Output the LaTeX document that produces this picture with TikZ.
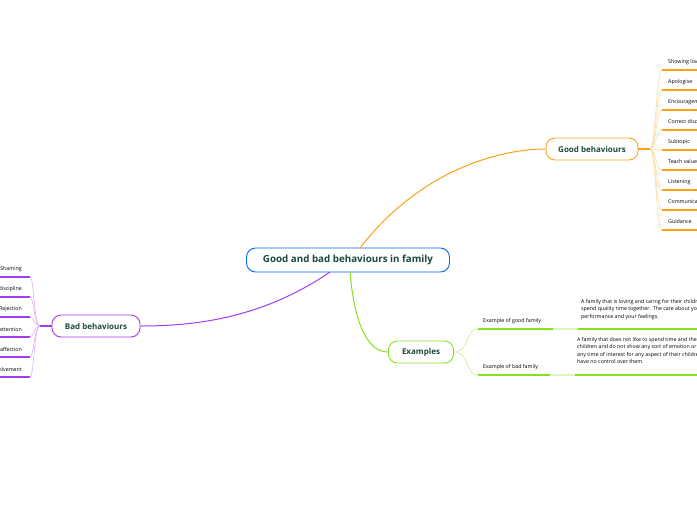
\documentclass[tikz,border=0pt]{standalone}
\usepackage{fontspec}
\setmainfont{Open Sans}
\definecolor{org}{HTML}{F9A11B}
\definecolor{pur}{HTML}{A23CF0}
\definecolor{grn}{HTML}{86E21E}
\definecolor{ttl}{HTML}{1B4A3A}
\begin{document}
\begin{tikzpicture}[x=1pt,y=-1pt,
 main/.style={draw=#1,rounded corners=9pt,line width=0.9pt,fill=white,font=\bfseries\fontsize{8}{9}\selectfont,text=ttl,inner sep=0pt},
 leaf/.style={font=\fontsize{5.3}{6}\selectfont,anchor=west,inner sep=0pt},
 desc/.style={font=\fontsize{5.3}{7.5}\selectfont,anchor=north west,inner sep=0pt,align=left}]
\useasboundingbox (0,0) rectangle (697,520);
\clip (0,0) rectangle (697,520);
\node[main=blue!60!cyan,minimum width=203pt,minimum height=24pt,font=\bfseries\fontsize{9.8}{11}\selectfont] (c) at (348,260) {Good and bad behaviours in family};
\node[main=org,minimum width=92pt,minimum height=22pt] (g) at (592,149) {Good behaviours};
\node[main=pur,minimum width=88pt,minimum height=22pt] (b) at (96,326) {Bad behaviours};
\node[main=grn,minimum width=65pt,minimum height=22pt] (e) at (421,352) {Examples};
\draw[org,line width=1pt] (360,248) .. controls (420,170) and (500,149) .. (g.west);
\draw[pur,line width=1pt] (330,272) .. controls (260,320) and (190,326) .. (b.east);
\draw[grn,line width=1pt] (350,272) .. controls (355,330) and (370,352) .. (e.west);
% good children
\foreach \t [count=\i] in {Showing love,Apologise,Encouragement,Correct discipline,Subtopic,Teach values,Listening,Communication,Guidance}{
 \pgfmathsetmacro\yy{42+20*\i}
 \node[leaf] (g\i) at (668,\yy) {\t};
 \coordinate (gu\i) at (662,\yy+8);
 \draw[org!40,line width=0.6pt] (g.east) -- (650,149) .. controls (656,149) and (656,\yy+8) .. (gu\i);
 \draw[org,line width=1.2pt] (gu\i) -- (697,\yy+8);
}
\draw[org,line width=1.2pt] (g.east) -- (650,149);
% bad children
\foreach \t [count=\i] in {Shaming,Lack of discipline,Rejection,Lack of attention,Lack of affection,Lack of involvement}{
 \pgfmathsetmacro\yy{249+20*\i}
 \node[leaf,anchor=east] (b\i) at (22,\yy) {\t};
 \coordinate (bu\i) at (30,\yy+8);
 \draw[pur!40,line width=0.6pt] (b.west) -- (40,326) .. controls (34,326) and (34,\yy+8) .. (bu\i);
 \draw[pur,line width=1.2pt] (bu\i) -- (0,\yy+8);
}
\draw[pur,line width=1.2pt] (b.west) -- (40,326);
% examples
\node[leaf] (eg) at (483,321) {Example of good family};
\node[leaf] (eb) at (483,367) {Example of bad family};
\coordinate (egu) at (478,329);
\coordinate (ebu) at (478,375);
\draw[grn!50,line width=0.6pt] (e.east) .. controls (470,352) and (465,329) .. (egu);
\draw[grn!50,line width=0.6pt] (e.east) .. controls (470,352) and (465,375) .. (ebu);
\draw[grn,line width=1.2pt] (egu) -- (553,329);
\draw[grn!30,line width=1.2pt] (553,329) -- (578,329);
\draw[grn,line width=1.2pt] (578,329) -- (697,329);
\draw[grn,line width=1.2pt] (ebu) -- (550,375);
\draw[grn!30,line width=1.2pt] (550,375) -- (575,375);
\draw[grn,line width=1.2pt] (575,375) -- (697,375);
\node[desc] (dg) at (581,299) {A family that is loving and caring for their children\\spend quality time together. The care about your\\performance and your feelings.};
\node[desc] (db) at (577,337) {A family that does not like to spend time and their\\children and do not show any sort of emotion or\\any time of interest for any aspect of their children\\have no control over them.};
\end{tikzpicture}
\end{document}
